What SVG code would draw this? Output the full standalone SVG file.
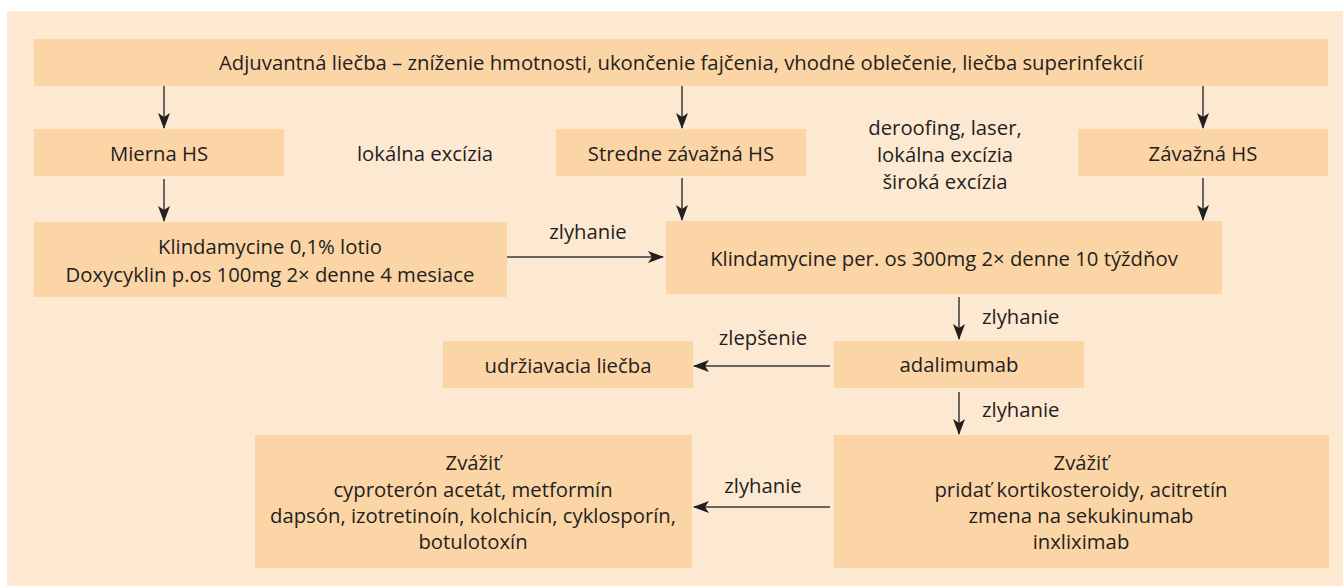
<svg xmlns="http://www.w3.org/2000/svg" width="1343" height="586" viewBox="0 0 1343 586">
<defs>
<style>
.box{fill:#FCD5A7}
.t{font-family:"Open Sans","Noto Sans","Liberation Sans",sans-serif;font-size:20.3px;fill:#231F20;text-anchor:middle}
.ls{text-anchor:start}
.c{stroke:#3a3a3a;stroke-width:1.5;fill:none;marker-end:url(#ah)}
</style>
<marker id="ah" markerUnits="userSpaceOnUse" viewBox="0 0 16 12" refX="15" refY="6" markerWidth="16" markerHeight="12" orient="auto">
<path d="M0,0 L16,6 L0,12 L4,6 Z" fill="#231F20"/>
</marker>
</defs>
<rect x="0" y="0" width="1343" height="586" fill="#ffffff"/>
<rect x="7" y="11" width="1336" height="575" fill="#FDE8D2"/>
<g id="n-adjuvant"><rect class="box" x="34" y="39" width="1294" height="47"/><text class="t" x="681" y="70">Adjuvantná liečba – zníženie hmotnosti, ukončenie fajčenia, vhodné oblečenie, liečba superinfekcií</text></g>
<g id="n-mierna"><rect class="box" x="34" y="129" width="250" height="47"/><text class="t" x="159" y="161">Mierna HS</text></g>
<g id="n-lokalna"><text class="t" x="425" y="161">lokálna excízia</text></g>
<g id="n-stredne"><rect class="box" x="556" y="129" width="250" height="47"/><text class="t" x="681" y="161">Stredne závažná HS</text></g>
<g id="n-deroofing"><text class="t" x="945" y="135">deroofing, laser,</text><text class="t" x="945" y="162">lokálna excízia</text><text class="t" x="945" y="189">široká excízia</text></g>
<g id="n-zavazna"><rect class="box" x="1078" y="129" width="250" height="47"/><text class="t" x="1203" y="161">Závažná HS</text></g>
<g id="n-klind1"><rect class="box" x="34" y="222" width="473" height="75"/><text class="t" x="270" y="254">Klindamycine 0,1% lotio</text><text class="t" x="270" y="282">Doxycyklin p.os 100mg 2× denne 4 mesiace</text></g>
<g id="n-klind2"><rect class="box" x="666" y="221" width="556" height="73"/><text class="t" x="944" y="266">Klindamycine per. os 300mg 2× denne 10 týždňov</text></g>
<g id="n-adalimumab"><rect class="box" x="834" y="341" width="250" height="47"/><text class="t" x="959" y="372">adalimumab</text></g>
<g id="n-udrziavacia"><rect class="box" x="443" y="341" width="250" height="47"/><text class="t" x="568" y="373">udržiavacia liečba</text></g>
<g id="n-zvazit-left"><rect class="box" x="255" y="435" width="437" height="133"/><text class="t" x="473" y="470">Zvážiť</text><text class="t" x="473" y="497">cyproterón acetát, metformín</text><text class="t" x="473" y="523">dapsón, izotretinoín, kolchicín, cyklosporín,</text><text class="t" x="473" y="549">botulotoxín</text></g>
<g id="n-zvazit-right"><rect class="box" x="834" y="435" width="495" height="133"/><text class="t" x="1081" y="470">Zvážiť</text><text class="t" x="1081" y="497">pridať kortikosteroidy, acitretín</text><text class="t" x="1081" y="523">zmena na sekukinumab</text><text class="t" x="1081" y="549">inxliximab</text></g>
<g id="connectors">
<line class="c" x1="164" y1="86" x2="164" y2="128"/>
<line class="c" x1="682" y1="86" x2="682" y2="128"/>
<line class="c" x1="1203" y1="86" x2="1203" y2="128"/>
<line class="c" x1="164" y1="179" x2="164" y2="221"/>
<line class="c" x1="682" y1="178" x2="682" y2="220"/>
<line class="c" x1="1203" y1="178" x2="1203" y2="220"/>
<line class="c" x1="507" y1="257" x2="663" y2="257"/>
<line class="c" x1="959" y1="297" x2="959" y2="339"/>
<line class="c" x1="830" y1="366" x2="694" y2="366"/>
<line class="c" x1="959" y1="392" x2="959" y2="434"/>
<line class="c" x1="830" y1="507" x2="694" y2="507"/>
<text class="t" x="588" y="239">zlyhanie</text>
<text class="t ls" x="982" y="324">zlyhanie</text>
<text class="t" x="763" y="345">zlepšenie</text>
<text class="t ls" x="982" y="417">zlyhanie</text>
<text class="t" x="763" y="493">zlyhanie</text>
</g>
</svg>
